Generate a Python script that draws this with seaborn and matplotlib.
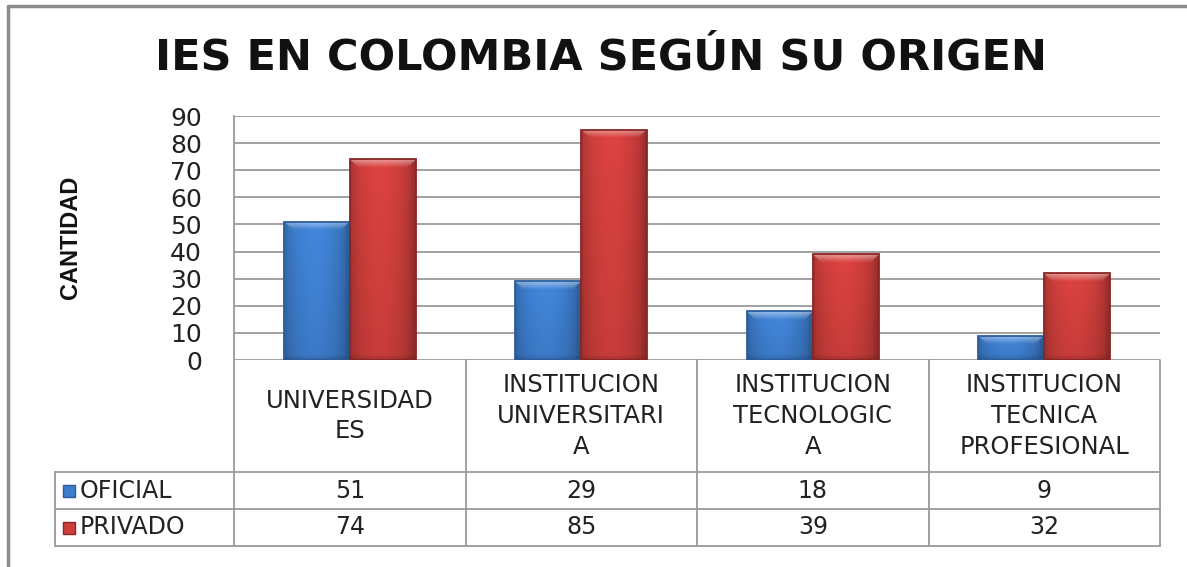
import matplotlib
matplotlib.use("Agg")
import matplotlib.pyplot as plt
import seaborn as sns
import pandas as pd
import numpy as np
from matplotlib.lines import Line2D
from matplotlib.patches import Rectangle
from matplotlib.transforms import blended_transform_factory
from matplotlib.colors import to_rgb

# ---- data ----
categories = ["UNIVERSIDAD\nES", "INSTITUCION\nUNIVERSITARI\nA",
              "INSTITUCION\nTECNOLOGIC\nA", "INSTITUCION\nTECNICA\nPROFESIONAL"]
series_names = ["OFICIAL", "PRIVADO"]
oficial = [51, 29, 18, 9]
privado = [74, 85, 39, 32]
yticks = [0, 10, 20, 30, 40, 50, 60, 70, 80, 90]
title = "IES EN COLOMBIA SEGÚN SU ORIGEN"
ylabel = "CANTIDAD"

colors = {"OFICIAL": "#3d7dcc", "PRIVADO": "#cc3e3b"}
edges = {"OFICIAL": "#2b5c9c", "PRIVADO": "#8a2523"}

df = pd.DataFrame({
    "cat": categories * 2,
    "serie": [series_names[0]] * 4 + [series_names[1]] * 4,
    "val": oficial + privado,
})

sns.set_theme(style="white")
plt.rcParams["font.family"] = ["DejaVu Sans"]

W, H = 1187, 567
fig = plt.figure(figsize=(W / 100, H / 100), dpi=100)
fig.patch.set_facecolor("white")

def fx(px):
    return px / W

def fy(py):
    return 1 - py / H

ax_l, ax_r, ax_t, ax_b = 234, 1160, 116, 360
ax = fig.add_axes([fx(ax_l), fy(ax_b), fx(ax_r) - fx(ax_l), fy(ax_t) - fy(ax_b)])

sns.barplot(data=df, x="cat", y="val", hue="serie", hue_order=series_names,
            palette=colors, width=0.57, gap=0, ax=ax, legend=False,
            saturation=1, linewidth=0)

ax.set_xlim(-0.5, len(categories) - 0.5)
ax.set_ylim(0, 90)

# pixels per data unit (vertical) to keep the top bevel a fixed height
px_per_unit = (ax_b - ax_t) / 90.0


def shade_image(base, h_px, nx=60):
    """Bevel-like shading: darker at the sides, light bevel at the top."""
    ny = max(int(h_px), 4)
    r = np.array(to_rgb(base))
    x = np.linspace(0, 1, nx)
    hx = 0.80 + 0.28 * np.sin(np.pi * np.clip(x * 1.05, 0, 1)) ** 0.5
    hx = np.where(x > 0.5, hx - 0.06 * (x - 0.5), hx)
    ypx = np.arange(ny)  # pixel rows from top
    hy = 1.0 - 0.10 * ypx / ny
    fac = hy[:, None] * hx[None, :]
    img = np.clip(r[None, None, :] * fac[:, :, None], 0, 1)
    # top bevel: light band ~8px with diagonal corners
    bev = 8
    xpx = x * nx
    for j in range(min(bev, ny)):
        inside = (xpx >= j * 0.9) & (xpx <= nx - j * 0.9)
        t = 0.45 * (1 - j / bev)
        img[j, inside] = img[j, inside] * (1 - t) + t
    # bottom darker band
    for j in range(min(5, ny)):
        img[ny - 1 - j] *= 0.85 + 0.03 * j
    return img


for cont, name in zip(ax.containers, series_names):
    for p in cont:
        x0, y0 = p.get_x(), p.get_y()
        w, h = p.get_width(), p.get_height()
        img = shade_image(colors[name], h * px_per_unit)
        im = ax.imshow(img, extent=[x0, x0 + w, y0, y0 + h], aspect="auto",
                       zorder=p.get_zorder() + 0.1, interpolation="bilinear")
        im.set_clip_path(p)
        ax.add_patch(Rectangle((x0, y0), w, h, facecolor="none",
                               edgecolor=edges[name], lw=1.3,
                               zorder=p.get_zorder() + 0.3))

ax.set_xlim(-0.5, len(categories) - 0.5)
ax.set_ylim(0, 90)
ax.set_yticks(yticks)
ax.set_yticklabels([str(v) for v in yticks], fontsize=18, color="#222222")
ax.tick_params(axis="y", length=0, pad=23)
ax.set_xticks([])
ax.set_xlabel("")
ax.set_ylabel("")
ax.yaxis.grid(True, color="#9a9a9a", linewidth=1.3)
ax.set_axisbelow(True)
for s in ["top", "right", "bottom"]:
    ax.spines[s].set_visible(False)
ax.spines["left"].set_color("#9a9a9a")
ax.spines["left"].set_linewidth(1.3)

# title and y label
fig.text(fx(601), fy(58), title, ha="center", va="center",
         fontsize=31, fontweight="bold", color="#111111")
fig.text(fx(71), fy(237), ylabel, rotation=90, ha="center", va="center",
         fontsize=17, fontweight="bold", color="#111111",
         family=["Liberation Sans Narrow", "Liberation Sans", "DejaVu Sans"])

# ---- data table below ----
tr = blended_transform_factory(ax.transData, fig.transFigure)
grid_c = "#9a9a9a"
hdr_bottom, row1_bottom, row2_bottom = 472, 509, 546
leg_left = 55

for i in range(len(categories) + 1):
    ax.add_line(Line2D([i - 0.5, i - 0.5], [fy(ax_b), fy(row2_bottom)],
                       transform=tr, color=grid_c, lw=1.3, clip_on=False))
for yy in [hdr_bottom, row1_bottom, row2_bottom]:
    fig.add_artist(Line2D([fx(leg_left), fx(ax_r)], [fy(yy), fy(yy)],
                          color=grid_c, lw=1.3))
fig.add_artist(Line2D([fx(leg_left), fx(leg_left)], [fy(hdr_bottom), fy(row2_bottom)],
                      color=grid_c, lw=1.3))

for i, c in enumerate(categories):
    ax.text(i, fy((ax_b + hdr_bottom) / 2), c, transform=tr, ha="center",
            va="center", multialignment="center", fontsize=17.5,
            color="#222222", linespacing=1.36, clip_on=False)

row_centers = [(hdr_bottom + row1_bottom) / 2, (row1_bottom + row2_bottom) / 2]
for name, vals, yc in zip(series_names, [oficial, privado], row_centers):
    for i, v in enumerate(vals):
        ax.text(i, fy(yc), str(v), transform=tr, ha="center", va="center",
                fontsize=17, color="#222222", clip_on=False)
    fig.patches.append(Rectangle((fx(63), fy(yc + 6)), fx(12), 12 / H,
                                 transform=fig.transFigure,
                                 facecolor=colors[name], edgecolor=edges[name], lw=1))
    fig.text(fx(80), fy(yc), name, ha="left", va="center", fontsize=17,
             color="#222222")

# outer chart frame (top and left visible)
fig.add_artist(Line2D([fx(8), 1], [fy(6), fy(6)], color="#8c8c8c", lw=2.5))
fig.add_artist(Line2D([fx(8), fx(8)], [fy(6), 0], color="#8c8c8c", lw=2.5))

fig.savefig("out.png", dpi=100)
